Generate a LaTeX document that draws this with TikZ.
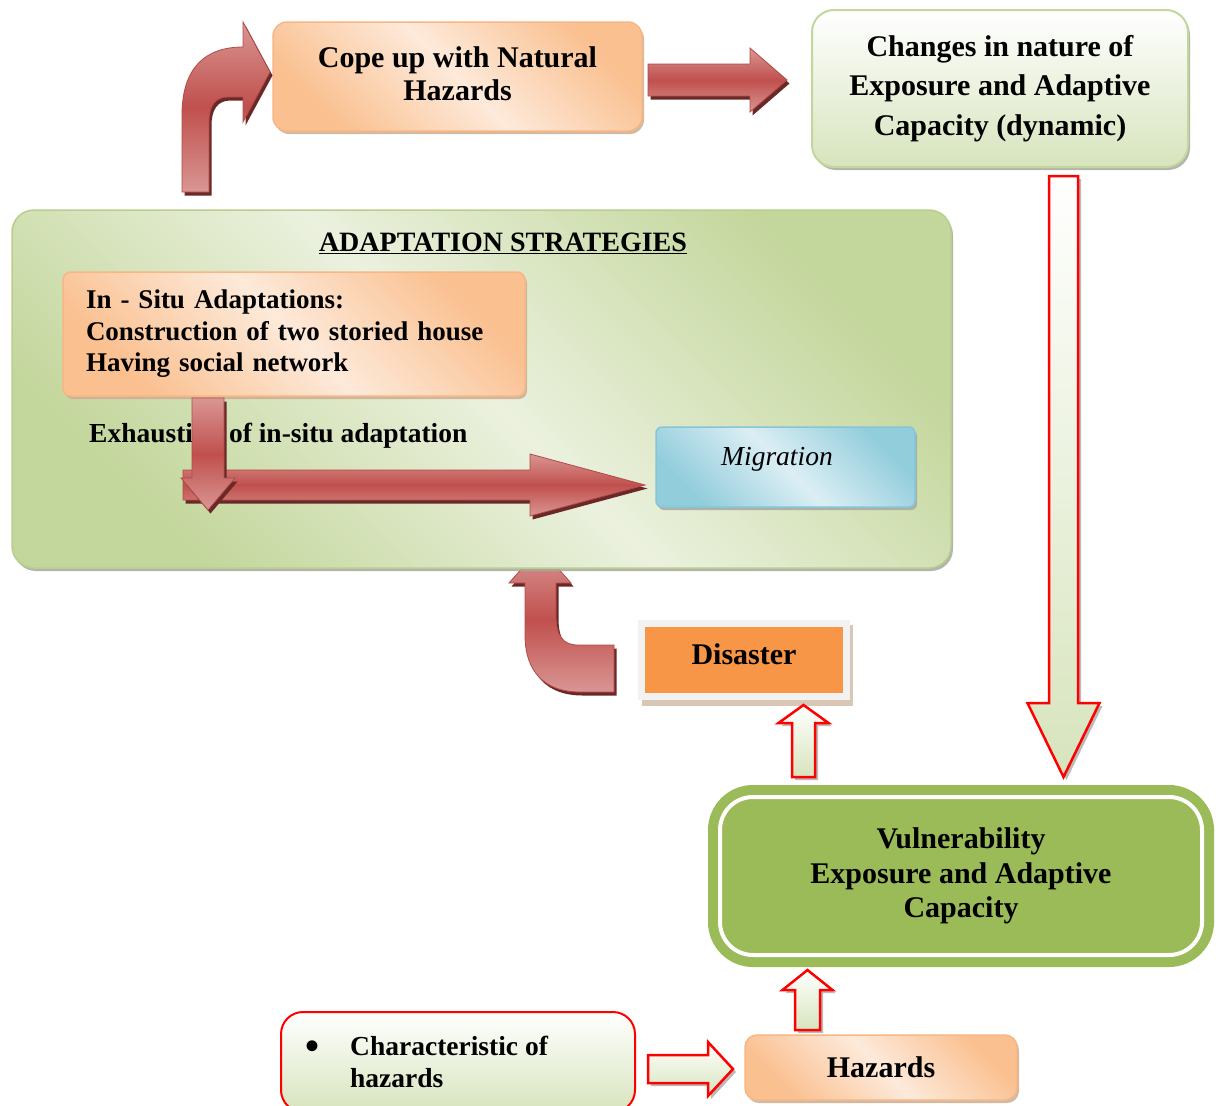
\documentclass[tikz,border=0pt]{standalone}
\usepackage{fontspec}
\setmainfont{Liberation Serif}
\usetikzlibrary{calc,shadows}
\pgfdeclarelayer{bgw}
\pgfdeclarelayer{bg}
\pgfsetlayers{bgw,bg,main}
\definecolor{orD}{HTML}{FAC090}
\definecolor{orL}{HTML}{FDEADA}
\definecolor{orB}{HTML}{F8B684}
\definecolor{grD}{HTML}{C3D69B}
\definecolor{grL}{HTML}{EBF1DE}
\definecolor{grB}{HTML}{D7E4BD}
\definecolor{grE}{HTML}{B8CE8C}
\definecolor{blD}{HTML}{92CDDC}
\definecolor{blL}{HTML}{DBEEF4}
\definecolor{blE}{HTML}{86C5D6}
\definecolor{vgreen}{HTML}{9BBB59}
\definecolor{dorange}{HTML}{F79646}
\definecolor{dgray}{HTML}{F2F2F2}
\definecolor{redM}{HTML}{C0504D}
\definecolor{redL}{HTML}{D99694}
\definecolor{redE}{HTML}{B24A47}
\definecolor{redS}{HTML}{6A2826}
\definecolor{shadowtan}{HTML}{C9AE95}
\definecolor{shadowgr}{HTML}{A8A8A0}

\newcommand\arrowright[6]{%
  \path[#1] let \p1=(#2), \p2=(#3) in
  (\x1,\y1+#4pt) -- (\x2-#6pt,\y1+#4pt) -- (\x2-#6pt,\y1+#5pt) -- (\x2,\y1)
  -- (\x2-#6pt,\y1-#5pt) -- (\x2-#6pt,\y1-#4pt) -- (\x1,\y1-#4pt) -- cycle;}
\newcommand\arrowdown[6]{%
  \path[#1] let \p1=(#2), \p2=(#3) in
  (\x1-#4pt,\y1) -- (\x1-#4pt,\y2+#6pt) -- (\x1-#5pt,\y2+#6pt) -- (\x1,\y2)
  -- (\x1+#5pt,\y2+#6pt) -- (\x1+#4pt,\y2+#6pt) -- (\x1+#4pt,\y1) -- cycle;}
\newcommand\arrowup[6]{%
  \path[#1] let \p1=(#2), \p2=(#3) in
  (\x1-#4pt,\y1) -- (\x1-#4pt,\y2-#6pt) -- (\x1-#5pt,\y2-#6pt) -- (\x1,\y2)
  -- (\x1+#5pt,\y2-#6pt) -- (\x1+#4pt,\y2-#6pt) -- (\x1+#4pt,\y1) -- cycle;}
\newcommand\bentApath{(182,192) -- (182,115) .. controls (182,68) and (205,47) .. (243,47)
  -- (243,22) -- (270,72) -- (243,122) -- (243,97) -- (228,97)
  .. controls (215,97) and (209,106) .. (209,122) -- (209,192) -- cycle}
\newcommand\bentFpath{(540,548) -- (571,583) -- (556,583) -- (556,615)
  .. controls (556,636) and (563,645) .. (578,645) -- (614,645) -- (614,692) -- (580,692)
  .. controls (545,692) and (525,672) .. (525,635) -- (525,583) -- (509,583) -- cycle}

\tikzset{
  boxbase/.style={inner sep=0pt, outer sep=0pt},
  orangebox/.style={boxbase, draw=orB, line width=1.5pt, rounded corners=#1,
    left color=orD, right color=orD, middle color=orL, shading angle=135,
    drop shadow={shadow xshift=2pt, shadow yshift=-3pt, fill=shadowtan, opacity=0.85}},
  orangebox/.default=14pt,
  greenbox/.style={boxbase, draw=grD, line width=2pt, rounded corners=22pt,
    top color=white, bottom color=grB,
    drop shadow={shadow xshift=2pt, shadow yshift=-3pt, fill=shadowgr, opacity=0.85}},
  adaptbox/.style={boxbase, draw=grE, line width=1.5pt, rounded corners=22pt,
    left color=grD, right color=grD, middle color=grL, shading angle=135,
    drop shadow={shadow xshift=2pt, shadow yshift=-3pt, fill=shadowgr, opacity=0.85}},
  bluebox/.style={boxbase, draw=blE, line width=1.5pt, rounded corners=6pt,
    left color=blD, right color=blD, middle color=blL, shading angle=135,
    drop shadow={shadow xshift=2pt, shadow yshift=-3pt, fill=shadowgr, opacity=0.85}},
  charbox/.style={boxbase, draw=red, line width=2pt, rounded corners=22pt,
    top color=white, bottom color=grB},
  vulnbox/.style={boxbase, fill=vgreen, draw=vgreen, line width=10pt, double=white,
    double distance=4pt, rounded corners=33pt},
  disbox/.style={boxbase, fill=dorange, draw=dgray, line width=7pt},
  tbig/.style={font=\bfseries\fontsize{30}{33}\selectfont},
  redarrow/.style={draw=redE, line width=0.8pt, top color=redL, bottom color=redL, middle color=redM},
  redshadow/.style={fill=redS, transform canvas={xshift=2.5pt, yshift=-3.5pt}},
  outarrow/.style={draw=red, line width=2.5pt, line join=miter, top color=white, bottom color=grB},
  outshadow/.style={fill=black!45, opacity=0.6, transform canvas={xshift=3pt, yshift=-3pt}}
}

\begin{document}
\begin{tikzpicture}[x=1pt,y=-1pt]
\useasboundingbox (0,0) rectangle (1224,1106);
\begin{pgfonlayer}{bgw}
\fill[white] (0,0) rectangle (1224,1106);
\end{pgfonlayer}

% ---- nodes ----
\node[orangebox, minimum width=369pt, minimum height=109pt, align=center, text depth=5pt,
  font=\bfseries\fontsize{30}{33}\selectfont] (cope) at (457.5,76.5)
  {Cope up with Natural\\Hazards};

\node[greenbox, minimum width=376pt, minimum height=157pt, align=center,
  font=\bfseries\fontsize{30}{39.5}\selectfont] (changes) at (1000,88.5)
  {Changes in nature of\\Exposure and Adaptive\\Capacity (dynamic)};

\node[adaptbox, minimum width=939pt, minimum height=358pt] (adapt) at (481.5,389) {};
\node[inner sep=0pt, font=\bfseries\fontsize{28}{32}\selectfont] (title) at (503,243)
  {\underline{ADAPTATION STRATEGIES}};

\node[orangebox=8pt, minimum width=462pt, minimum height=124pt, text width=416pt,
  inner xsep=23pt, align=left, font=\bfseries\fontsize{27}{31.5}\selectfont]
  (insitu) at (294,334)
  {In - Situ Adaptations:\\Construction of two storied house\\Having social network};

\node[anchor=west, inner sep=0pt, font=\bfseries\fontsize{27.5}{31.5}\selectfont]
  (exh) at (89,436) {Exhaustion of in-situ adaptation};

\node[bluebox, minimum width=259pt, minimum height=80pt, text depth=22pt,
  font=\itshape\fontsize{27.5}{31}\selectfont] (migr) at (785.5,467)
  {\kern-17pt Migration};

\fill[shadowtan!70] (642,625) rectangle (853,706);
\node[disbox, minimum width=205pt, minimum height=73pt, text depth=12pt, tbig]
  (disaster) at (744,660) {Disaster};

\node[vulnbox, minimum width=482pt, minimum height=158pt, align=center,
  font=\bfseries\fontsize{30}{34.5}\selectfont] (vuln) at (961,876)
  {Vulnerability\\Exposure and Adaptive\\Capacity};

\node[charbox, minimum width=354pt, minimum height=100pt] (charb) at (458,1062) {};
\node[inner sep=0pt, font=\bfseries\fontsize{40}{40}\selectfont] (bul) at (312,1050) {\textbullet};
\node[anchor=west, align=left, inner sep=0pt, font=\bfseries\fontsize{27.5}{32}\selectfont]
  (chartext) at (350,1062) {Characteristic of\\hazards};

\node[orangebox=12pt, minimum width=272pt, minimum height=65pt, tbig]
  (haz) at (881,1067.5) {Hazards};

% ---- connector coordinates ----
\coordinate (Bs) at ($(cope.east)+(6,3.5)$);
\coordinate (Bt) at ($(changes.west)+(-25,-8.5)$);
\coordinate (Cs) at ($(changes.south)+(63.5,9)$);
\coordinate (Ct) at ($(vuln.north)+(102.5,-20)$);
\coordinate (Ds) at ($(insitu.south)+(-86,2)$);
\coordinate (Dt) at ($(insitu.south)+(-86,114)$);
\coordinate (Es) at ($(migr.west)+(-473,18)$);
\coordinate (Et) at ($(migr.west)+(-11,18)$);
\coordinate (Gs) at ($(vuln.north)+(-157.5,-20)$);
\coordinate (Gt) at ($(disaster.south)+(59.5,8.5)$);
\coordinate (Hs) at ($(haz.north)+(-73.5,-5)$);
\coordinate (Ht) at ($(vuln.south)+(-153.5,15)$);
\coordinate (Is) at ($(charb.east)+(13,7)$);
\coordinate (It) at ($(haz.west)+(-12,1.5)$);

% ---- red 3D arrows ----
\path[redshadow] \bentApath;
\path[redarrow] \bentApath;

\arrowright{redshadow}{Bs}{Bt}{16}{32}{37}
\arrowright{redarrow}{Bs}{Bt}{16}{32}{37}

\arrowright{redshadow}{Es}{Et}{15}{31}{115}
\arrowright{redarrow}{Es}{Et}{15}{31}{115}

\arrowdown{redshadow}{Ds}{Dt}{16}{27}{32}
\arrowdown{redarrow}{Ds}{Dt}{16}{27}{32}

\begin{pgfonlayer}{bg}
\path[redshadow] \bentFpath;
\path[redarrow] \bentFpath;
\end{pgfonlayer}

% ---- outline arrows ----
\arrowdown{outshadow}{Cs}{Ct}{14.5}{36}{74}
\arrowdown{outarrow}{Cs}{Ct}{14.5}{36}{74}

\arrowup{outshadow}{Gs}{Gt}{11.5}{25}{18}
\arrowup{outarrow}{Gs}{Gt}{11.5}{25}{18}

\arrowup{outshadow}{Hs}{Ht}{12.5}{25}{20}
\arrowup{outarrow}{Hs}{Ht}{12.5}{25}{20}

\arrowright{outshadow}{Is}{It}{14}{27}{25}
\arrowright{outarrow}{Is}{It}{14}{27}{25}
\end{tikzpicture}
\end{document}
